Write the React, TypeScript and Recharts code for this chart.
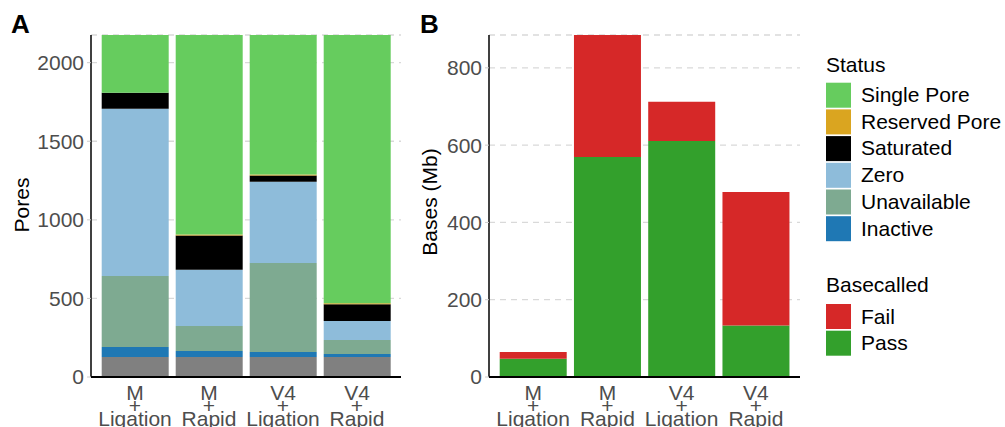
import React from "react";
import { BarChart, Bar, XAxis, YAxis, CartesianGrid } from "recharts";

const categories = ["M + Ligation", "M + Rapid", "V4 + Ligation", "V4 + Rapid"];

// Panel A: pores by status (bottom to top)
const baseline = [128, 128, 128, 128];
const inactive = [63, 38, 31, 18];
const unavailable = [452, 159, 567, 90];
const zero = [1064, 357, 516, 121];
const saturated = [102, 218, 40, 106];
const reservedPore = [0, 6, 6, 6];
const singlePore = [367, 1270, 888, 1707];
const poresTicks = [0, 500, 1000, 1500, 2000];
const poresMax = 2176;

// Panel B: bases (Mb)
const pass = [47, 569, 611, 133];
const fail = [18, 316, 101, 346];
const basesTicks = [0, 200, 400, 600, 800];
const basesMax = 885;

const statusLabels = ["Single Pore", "Reserved Pore", "Saturated", "Zero", "Unavailable", "Inactive"];
const statusColors = ["#66CC5E", "#DAA520", "#000000", "#8EBCDA", "#7EAA91", "#1F78B4"];
const basecalledLabels = ["Fail", "Pass"];
const basecalledColors = ["#D62828", "#33A02C"];
const baselineColor = "#808080";

const poreData = categories.map((c, i) => ({
  cat: c,
  baseline: baseline[i],
  inactive: inactive[i],
  unavailable: unavailable[i],
  zero: zero[i],
  saturated: saturated[i],
  reserved: reservedPore[i],
  single: singlePore[i],
}));

const baseData = categories.map((c, i) => ({ cat: c, pass: pass[i], fail: fail[i] }));

const FONT = "'Liberation Sans', Arial, sans-serif";
const TICK_COLOR = "#4d4d4d";
const FS = 21;

const CatTick = (props: any) => {
  const { x, y, payload } = props;
  const parts = String(payload.value).split(" ");
  return (
    <g>
      {parts.map((p: string, k: number) => (
        <text
          key={k}
          x={x}
          y={y + 23 + k * 13}
          textAnchor="middle"
          fill={TICK_COLOR}
          fontSize={FS}
          fontFamily={FONT}
        >
          {p}
        </text>
      ))}
    </g>
  );
};

export default function App() {
  return (
    <div style={{ position: "absolute", left: 0, top: 0, width: 1005, height: 427, background: "#fff", fontFamily: FONT }}>
      <div style={{ position: "absolute", left: 0, top: 0 }}>
        <BarChart width={410} height={427} data={poreData} margin={{ top: 35, right: 9, bottom: 0, left: 0 }} barCategoryGap="5%">
          <CartesianGrid vertical={false} stroke="#d9d9d9" strokeDasharray="6 5" strokeWidth={1.3} />
          <XAxis
            dataKey="cat"
            height={50}
            padding={{ left: 7, right: 7 }}
            tick={<CatTick />}
            tickLine={false}
            tickSize={0}
            tickMargin={0}
            interval={0}
            axisLine={{ stroke: "#000", strokeWidth: 2 }}
          />
          <YAxis
            width={91}
            domain={[0, poresMax]}
            ticks={poresTicks}
            allowDataOverflow
            tickSize={4}
            tickMargin={3}
            tickLine={{ stroke: "#cccccc" }}
            axisLine={{ stroke: "#000", strokeWidth: 1.5 }}
            tick={{ fill: TICK_COLOR, fontSize: FS, fontFamily: FONT }}
          />
          <Bar dataKey="baseline" stackId="a" fill={baselineColor} isAnimationActive={false} />
          <Bar dataKey="inactive" stackId="a" fill={statusColors[5]} isAnimationActive={false} />
          <Bar dataKey="unavailable" stackId="a" fill={statusColors[4]} isAnimationActive={false} />
          <Bar dataKey="zero" stackId="a" fill={statusColors[3]} isAnimationActive={false} />
          <Bar dataKey="saturated" stackId="a" fill={statusColors[2]} isAnimationActive={false} />
          <Bar dataKey="reserved" stackId="a" fill={statusColors[1]} isAnimationActive={false} />
          <Bar dataKey="single" stackId="a" fill={statusColors[0]} isAnimationActive={false} />
        </BarChart>
      </div>
      <div style={{ position: "absolute", left: 410, top: 0 }}>
        <BarChart width={395} height={427} data={baseData} margin={{ top: 35, right: 5, bottom: 0, left: 0 }} barCategoryGap="5%">
          <CartesianGrid vertical={false} stroke="#d9d9d9" strokeDasharray="6 5" strokeWidth={1.3} />
          <XAxis
            dataKey="cat"
            height={50}
            padding={{ left: 7, right: 7 }}
            tick={<CatTick />}
            tickLine={false}
            tickSize={0}
            tickMargin={0}
            interval={0}
            axisLine={{ stroke: "#000", strokeWidth: 2 }}
          />
          <YAxis
            width={79}
            domain={[0, basesMax]}
            ticks={basesTicks}
            allowDataOverflow
            tickSize={4}
            tickMargin={3}
            tickLine={{ stroke: "#cccccc" }}
            axisLine={{ stroke: "#000", strokeWidth: 1.5 }}
            tick={{ fill: TICK_COLOR, fontSize: FS, fontFamily: FONT }}
          />
          <Bar dataKey="pass" stackId="b" fill={basecalledColors[1]} isAnimationActive={false} />
          <Bar dataKey="fail" stackId="b" fill={basecalledColors[0]} isAnimationActive={false} />
        </BarChart>
      </div>
      <svg width={1005} height={427} style={{ position: "absolute", left: 0, top: 0, pointerEvents: "none" }} fontFamily={FONT}>
        <text x={11} y={32.5} fontSize={26} fontWeight="bold" fill="#000">A</text>
        <text x={420} y={32.5} fontSize={26} fontWeight="bold" fill="#000">B</text>
        <text x={0} y={0} transform="translate(29,205) rotate(-90)" textAnchor="middle" fontSize={FS} fill="#000">Pores</text>
        <text x={0} y={0} transform="translate(437,202) rotate(-90)" textAnchor="middle" fontSize={FS} fill="#000">Bases (Mb)</text>
        <text x={826} y={71.5} fontSize={FS} fill="#000">Status</text>
        {statusLabels.map((s, i) => (
          <g key={s}>
            <rect x={826} y={82.7 + i * 26.7} width={25} height={25} fill={statusColors[i]} />
            <text x={861} y={102 + i * 26.7} fontSize={FS} fill="#000">{s}</text>
          </g>
        ))}
        <text x={826} y={292} fontSize={FS} fill="#000">Basecalled</text>
        {basecalledLabels.map((s, i) => (
          <g key={s}>
            <rect x={826} y={304 + i * 26.7} width={25} height={25} fill={basecalledColors[i]} />
            <text x={861} y={323.5 + i * 26.7} fontSize={FS} fill="#000">{s}</text>
          </g>
        ))}
      </svg>
    </div>
  );
}
